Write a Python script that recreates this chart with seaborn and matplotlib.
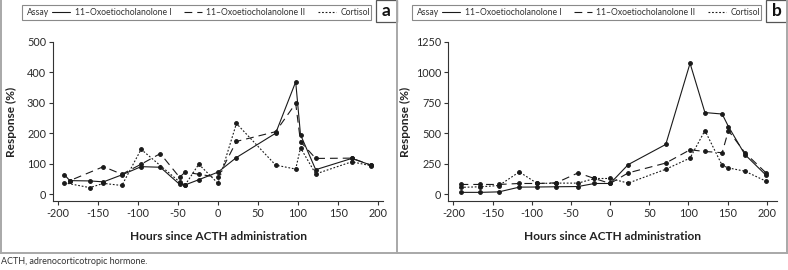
import numpy as np
import pandas as pd
import matplotlib
matplotlib.use('Agg')
import matplotlib.pyplot as plt
from matplotlib.lines import Line2D
from matplotlib.patches import Rectangle
import seaborn as sns

# panel a data
hours_a_I = [-185, -160, -143, -120, -96, -72, -48, -41, -24, 0, 23, 72, 97, 103, 122, 167, 191]
resp_a_I = [44, 43, 40, 63, 90, 88, 32, 30, 47, 72, 120, 200, 369, 195, 80, 117, 95]
hours_a_II = [-192, -185, -143, -120, -96, -72, -48, -41, -24, 0, 23, 72, 97, 103, 122, 167, 191]
resp_a_II = [64, 44, 90, 65, 98, 133, 55, 72, 65, 55, 173, 205, 298, 172, 117, 118, 95]
hours_a_cort = [-192, -160, -143, -120, -96, -48, -41, -24, 0, 23, 72, 97, 103, 122, 167, 191]
resp_a_cort = [37, 21, 35, 28, 147, 40, 30, 98, 35, 232, 95, 82, 152, 66, 106, 93]

# panel b data
hours_b = [-191, -166, -142, -116, -93, -69, -41, -20, 0, 23, 71, 102, 121, 143, 151, 172, 199]
resp_b_I = [14, 14, 18, 57, 58, 60, 62, 87, 87, 242, 408, 1075, 670, 658, 555, 325, 155]
resp_b_II = [79, 79, 79, 87, 87, 92, 174, 128, 87, 174, 255, 364, 350, 340, 522, 340, 174]
resp_b_cort = [55, 60, 70, 182, 87, 90, 90, 128, 128, 90, 204, 296, 522, 236, 215, 188, 106]

assays = ['11–Oxoetiocholanolone I', '11–Oxoetiocholanolone II', 'Cortisol']


def long_df(series):
    frames = []
    for name, h, r in series:
        frames.append(pd.DataFrame({'hours': h, 'response': r, 'assay': name}))
    return pd.concat(frames, ignore_index=True)


df_a = long_df([(assays[0], hours_a_I, resp_a_I),
                (assays[1], hours_a_II, resp_a_II),
                (assays[2], hours_a_cort, resp_a_cort)])
df_b = long_df([(assays[0], hours_b, resp_b_I),
                (assays[1], hours_b, resp_b_II),
                (assays[2], hours_b, resp_b_cort)])

sns.set_theme(style='ticks')
plt.rcParams['font.family'] = ['Lato', 'DejaVu Sans']
plt.rcParams['axes.unicode_minus'] = False

W, H = 788, 270
fig = plt.figure(figsize=(W / 100, H / 100), dpi=100)


def fx(px):
    return px / W


def fy(py):
    return 1 - py / H


dash_map = {assays[0]: '', assays[1]: (7, 4.5), assays[2]: (1.6, 1.6)}
mark_map = {a: 'o' for a in assays}
ink = '#1a1a1a'


def draw_panel(df, left, right, ylim, yticks, letter, leg_x0, leg_x1, lab_x):
    ax = fig.add_axes([fx(left), fy(201), fx(right - left), fy(42) - fy(201)])
    sns.lineplot(data=df, x='hours', y='response', style='assay',
                 dashes=dash_map, markers=mark_map, color=ink,
                 estimator=None, lw=0.8, markersize=2.7, mec=ink,
                 legend=False, ax=ax)
    ax.set_ylim(*ylim)
    ax.set_yticks(yticks)
    ax.set_xticks(np.arange(-200, 201, 50))
    sns.despine(ax=ax)
    for s in ['left', 'bottom']:
        ax.spines[s].set_linewidth(0.8)
        ax.spines[s].set_color('#333333')
    ax.tick_params(length=3, width=0.8, color='#333333', labelsize=7.8,
                   labelcolor='#2a2a2a', pad=2)
    ax.set_xlabel('Hours since ACTH administration', fontsize=8.6,
                  fontweight='bold', color='#222222')
    ax.set_ylabel('Response (%)', fontsize=8.6, fontweight='bold', color='#222222')
    ax.xaxis.set_label_coords(0.5, -0.19)
    ax.yaxis.set_label_coords(lab_x, 0.5)

    # legend frame + "Assay" title, inline like the original
    fig.add_artist(Rectangle((fx(leg_x0), fy(20)), fx(leg_x1 - leg_x0), fy(5) - fy(20),
                             transform=fig.transFigure, fill=False,
                             ec='#8a8a8a', lw=0.8))
    fig.text(fx(leg_x0 + 5), fy(12.8), 'Assay', fontsize=6.2, color='#333333',
             va='center', ha='left')
    handles = [Line2D([], [], color=ink, lw=0.8),
               Line2D([], [], color=ink, lw=0.8, dashes=(7, 4.5)),
               Line2D([], [], color=ink, lw=0.8, dashes=(1.6, 1.6))]
    fig.legend(handles, assays, loc='center left',
               bbox_to_anchor=(fx(leg_x0 + 30), fy(12.8)), ncol=3, frameon=False,
               fontsize=6.2, handlelength=2.1, handletextpad=0.55,
               columnspacing=1.4, borderpad=0, borderaxespad=0,
               labelcolor='#333333')

    # panel letter box
    fig.add_artist(Rectangle((fx(leg_x1 + 5), fy(22)), fx(21), fy(0) - fy(22),
                             transform=fig.transFigure, fill=False,
                             ec='#555555', lw=0.9))
    fig.text(fx(leg_x1 + 15.5), fy(11.5), letter, fontsize=12.5, fontweight='bold',
             ha='center', va='center', color='#111111')
    return ax


ax_a = draw_panel(df_a, 53, 383, (-23, 500), np.arange(0, 501, 100), 'a',
                  22, 371, -0.109)
ax_a.set_xlim(-206, 206)
ax_b = draw_panel(df_b, 448, 777, (-57, 1250), np.arange(0, 1251, 250), 'b',
                  412, 761, -0.112)
ax_b.set_xlim(-207, 213)

# panel frames
frame = dict(transform=fig.transFigure, color='#a8a8a8', lw=1.4)
fig.add_artist(Line2D([fx(0.7), fx(0.7)], [fy(0), fy(253)], **frame))
fig.add_artist(Line2D([fx(397), fx(397)], [fy(0), fy(253)], **frame))
fig.add_artist(Line2D([fx(787.3), fx(787.3)], [fy(0), fy(253)], **frame))
fig.add_artist(Line2D([0, 1], [fy(253), fy(253)], **frame))

fig.text(fx(1), fy(262), 'ACTH, adrenocorticotropic hormone.', fontsize=6.5,
         color='#333333', va='center', ha='left')

fig.savefig('out.png', dpi=100)
